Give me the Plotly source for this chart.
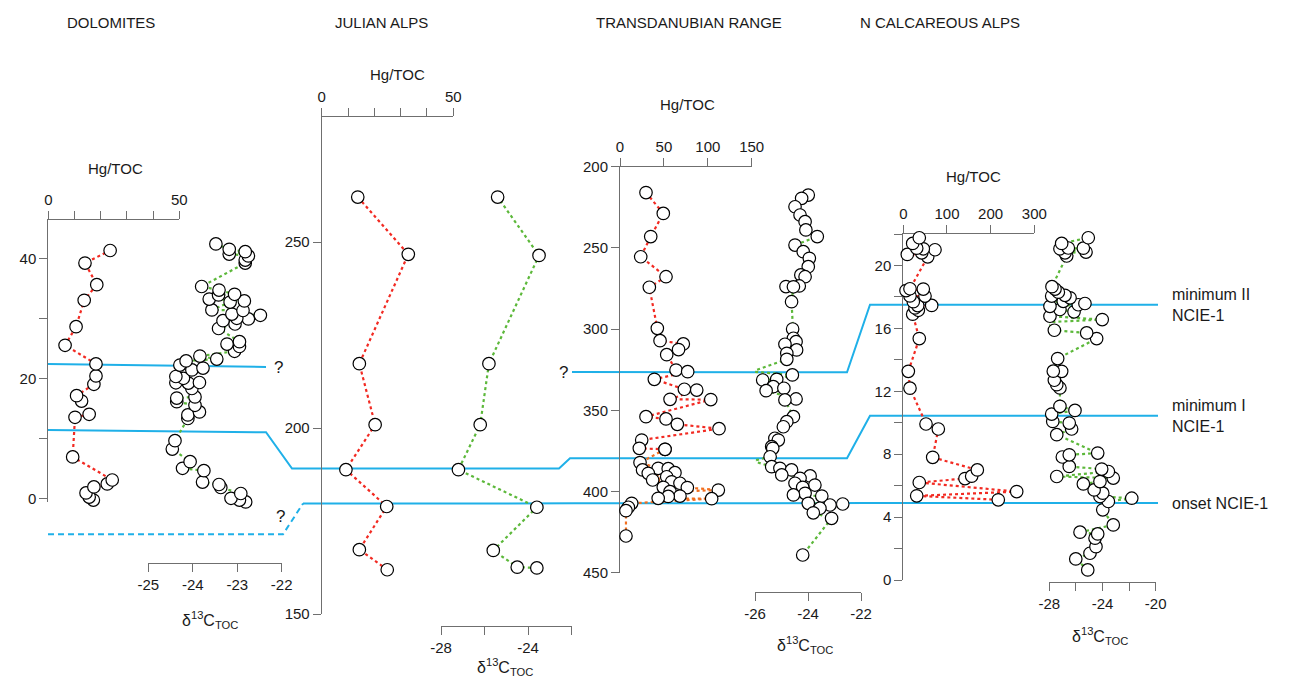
import plotly.graph_objects as go

# page body has an 8px margin: the figure is sized to fill the rest of the window
OFF = 8
W, H = 1291 - OFF, 687 - OFF
FONT = "Liberation Sans, Arial, sans-serif"

# ---------------- DATA ----------------
# Dolomites (depth m)
dol_hg_depth = [41.3, 39.2, 35.6, 33.0, 28.6, 25.5, 22.4, 20.4, 19.0, 17.1, 16.2, 14.0, 13.5, 6.9, 3.05, 2.4, 1.9, 0.9, 0.2, -0.3]
dol_hg = [23.6, 14.0, 18.5, 13.7, 10.6, 6.4, 18.2, 18.2, 17.4, 10.8, 12.7, 15.6, 10.2, 9.3, 24.4, 22.5, 17.4, 14.4, 15.6, 17.2]
dol_c_depth = [42.4, 41.5, 41.1, 40.7, 40.4, 39.7, 39.2, 35.3, 34.7, 34.0, 33.9, 33.2, 32.9, 32.7, 31.4, 31.3,
               30.7, 30.5, 30.0, 29.9, 29.6, 29.05, 28.3, 26.1, 25.7, 25.3, 24.5, 23.7, 23.2, 22.9, 22.2, 21.7,
               21.4, 20.3, 20.0, 19.3, 19.25, 19.2, 18.3, 16.9, 16.7, 16.1, 15.5, 14.4, 13.9, 13.3, 9.6, 8.2,
               6.1, 5.0, 4.6, 2.7, 2.3, 1.8, 0.8, 0.0, -0.3, -0.6]
dol_c = [-23.48, -23.18, -22.82, -23.18, -22.75, -22.82, -22.82, -23.8, -23.41, -23.06, -23.42, -23.63, -22.84, -23.16, -23.57, -22.87,
         -23.12, -22.48, -23.01, -22.75, -23.32, -23.05, -23.42, -22.95, -23.23, -22.95, -23.06, -23.84, -23.46, -24.15, -24.29, -23.77,
         -24.02, -24.38, -24.21, -23.85, -24.38, -24.1, -24.02, -23.95, -24.36, -24.36, -23.95, -23.85, -24.11, -24.11, -24.4, -24.46,
         -24.06, -24.23, -23.75, -23.78, -23.41, -23.37, -22.92, -23.14, -22.95, -22.81]

# Julian Alps (depth m)
jul_hg_depth = [262.1, 246.7, 217.3, 200.9, 188.8, 178.9, 167.3, 161.9]
jul_hg = [13.7, 32.9, 14.3, 20.3, 9.2, 24.7, 14.3, 24.9]
jul_c_depth = [262.1, 246.4, 217.3, 200.9, 188.8, 178.7, 167.1, 162.6, 162.4]
jul_c = [-25.4, -23.5, -25.8, -26.2, -27.2, -23.6, -25.6, -24.5, -23.6]

# Transdanubian Range (depth m)
tdr_hg_depth = [215.9, 228.7, 243.0, 255.4, 267.7, 274.2, 299.5, 307.1, 309.1, 312.6, 315.7, 325.2, 326.2, 330.9,
                337.0, 337.5, 343.2, 343.4, 353.9, 355.3, 358.6, 361.3, 368.3, 373.4, 374.0,
                382.2, 385.7, 385.9, 386.7, 388.4, 388.8, 390.9, 392.9, 394.0, 394.9, 397.4, 397.6, 399.1,
                400.1, 402.8, 403.0, 404.2, 404.4, 407.3, 409.7, 411.8, 427.4]
tdr_hg = [29.6, 49.3, 35.0, 23.6, 52.4, 33.4, 42.5, 45.6, 72.1, 66.7, 53.2, 63.8, 77.1, 39.1,
          73.3, 87.4, 57.0, 103.4, 29.6, 52.4, 65.3, 112.8, 24.7, 22.0, 51.3,
          22.8, 43.5, 54.9, 25.7, 62.6, 32.2, 53.2, 37.2, 58.8, 68.3, 49.3, 76.7, 112.0,
          57.0, 68.3, 54.9, 43.5, 104.4, 13.3, 9.5, 6.8, 6.8]
tdr_split_depth = 374.0   # red upper part / orange lower part
tdr_c_depth = [217.4, 219.4, 224.6, 229.7, 233.8, 238.9, 243.0, 248.2, 252.3, 256.4, 261.5, 266.6, 267.7, 273.4,
               273.8, 273.9, 283.1, 299.9, 305.6, 307.7, 309.3, 312.8, 314.9, 318.6, 326.2, 328.2, 330.9, 331.3,
               335.4, 336.4, 337.9, 343.0, 343.6, 353.9, 357.0, 360.1, 367.2, 368.3, 372.4, 373.4, 378.6, 381.2,
               384.7, 385.7, 386.7, 389.8, 390.4, 391.9, 394.9, 396.0, 397.4, 401.1, 402.1, 402.8, 407.3, 407.7,
               408.3, 410.3, 413.1, 416.5, 439.1]
tdr_c = [-23.99, -24.24, -24.49, -24.3, -24.11, -24.08, -23.65, -24.49, -24.18, -23.95, -23.99, -24.27, -24.11, -24.33,
         -24.83, -24.55, -24.62, -24.58, -24.55, -24.45, -24.87, -24.43, -24.8, -24.8, -26.12, -24.59, -25.18, -25.71,
         -25.31, -24.91, -25.58, -24.45, -24.87, -24.55, -24.8, -24.93, -25.25, -25.12, -25.37, -25.33, -25.43, -26.09,
         -25.37, -25.06, -24.62, -24.99, -23.92, -24.3, -24.49, -23.74, -24.2, -24.11, -24.55, -23.48, -23.99, -22.69,
         -23.17, -23.55, -23.8, -23.11, -24.2]

# Northern Calcareous Alps (depth m)
nca_hg_depth = [21.76, 21.4, 21.1, 21.06, 21.0, 20.8, 20.7, 20.55, 18.52, 18.5, 18.4, 18.06, 18.05, 17.7, 17.46,
                17.45, 17.3, 17.15, 16.9, 15.35, 13.27, 12.2, 9.92, 9.6, 7.8, 7.0, 6.6, 6.45, 6.2, 5.62, 5.35, 5.1]
nca_hg = [36.6, 21.5, 30.7, 45.8, 72.6, 42.1, 9.2, 55.9, 15.3, 45.8, 6.2, 15.3, 49.7, 22.9, 65.0,
          33.0, 26.8, 34.4, 21.5, 36.6, 11.5, 15.3, 52.0, 80.2, 67.3, 169.5, 156.6, 141.3, 36.6, 259.7, 30.7, 217.5]
nca_c_depth = [21.76, 21.4, 21.11, 21.1, 21.06, 20.85, 20.8, 20.6, 18.65, 18.6, 18.5, 18.3, 18.15, 18.1, 18.05,
               17.94, 17.72, 17.62, 17.58, 17.5, 17.4, 17.2, 17.05, 16.99, 16.77, 16.56, 16.39, 15.88, 15.71, 15.35,
               14.08, 13.28, 13.27, 12.7, 12.42, 12.21, 11.04, 10.78, 10.55, 10.08, 9.98, 9.6, 9.24, 8.07, 7.96,
               7.82, 7.22, 7.05, 6.9, 6.58, 6.48, 6.26, 6.11, 5.73, 5.52, 5.31, 5.2, 4.99, 4.46, 3.5, 3.04, 2.93,
               2.66, 2.12, 1.7, 1.34, 0.64]
nca_c = [-25.07, -27.07, -26.57, -25.44, -27.2, -25.24, -26.82, -26.69, -27.8, -28.2, -27.57, -27.32, -28.32, -26.82, -27.82,
         -26.44, -26.95, -28.45, -25.32, -25.82, -27.95, -27.2, -26.14, -28.08, -27.95, -24.02, -28.2, -27.62, -25.19, -24.44,
         -27.37, -27.7, -27.07, -27.62, -27.44, -27.2, -27.2, -26.07, -27.82, -27.74, -26.5, -26.32, -27.44, -24.36, -26.5,
         -27.02, -26.5, -24.06, -23.56, -27.44, -23.19, -24.19, -25.44, -24.63, -23.98, -24.19, -21.8, -23.56, -23.98, -23.19, -25.69, -24.36,
         -24.56, -24.49, -24.94, -26.01, -25.11]

# correlation levels in each section (depth units of that section)
onset_level = {"D": -6.0, "J": 179.7, "T": 407.3, "N": 4.89}
minI_level = {"D0": 11.4, "D1": 11.0, "J": 189.1, "T": 379.5, "N": 10.45}
minII_level = {"D0": 22.4, "D1": 21.9, "T0": 326.4, "T1": 326.6, "N": 17.5}

titles = ["DOLOMITES", "JULIAN ALPS", "TRANSDANUBIAN RANGE", "N CALCAREOUS ALPS"]

# ---------------- LAYOUT GEOMETRY (window pixels) ----------------
def X(px):
    return (px - OFF) / W

def Y(py):
    return 1 - (py - OFF) / H

panels = {
    "D": dict(ytop=220, ybot=502, yr=(-0.62, 46.38), ytv=[0, 20, 40], ymin=[10, 30],
              hx=(48.3, 179.3), hr=(0, 50), htv=[0, 50], hmin=[10, 20, 30, 40],
              cx=(148.3, 281.7), cr=(-25, -22), ctv=[-25, -24, -23, -22], cmin=[], cy=562.7),
    "J": dict(ytop=116.7, ybot=614, yr=(150, 283.7), ytv=[150, 200, 250], ymin=[],
              hx=(321.7, 453.3), hr=(0, 50), htv=[0, 50], hmin=[10, 20, 30, 40],
              cx=(441, 571.7), cr=(-28, -22), ctv=[-28, -24], cmin=[-26, -22], cy=626),
    "T": dict(ytop=166.8, ybot=572.7, yr=(450, 200), ytv=[200, 250, 300, 350, 400, 450], ymin=[],
              hx=(620, 751.7), hr=(0, 150), htv=[0, 50, 100, 150], hmin=[],
              cx=(755, 861), cr=(-26, -22), ctv=[-26, -24, -22], cmin=[], cy=591.7),
    "N": dict(ytop=234, ybot=580, yr=(0, 22), ytv=[0, 4, 8, 12, 16, 20], ymin=[2, 6, 10, 14, 18, 22],
              hx=(903.3, 1034.3), hr=(0, 300), htv=[0, 100, 200, 300], hmin=[],
              cx=(1049.3, 1155.7), cr=(-28, -20), ctv=[-28, -24, -20], cmin=[-26, -22], cy=581.7),
}
order = ["D", "J", "T", "N"]

def ypx(panel, v):
    p = panels[panel]
    r0, r1 = p["yr"]
    return p["ybot"] - (v - r0) / (r1 - r0) * (p["ybot"] - p["ytop"])

AXC = "#6f6f6f"
axis_common = dict(showline=True, linecolor=AXC, linewidth=1, ticks="outside", ticklen=8,
                   tickcolor=AXC, tickwidth=1, showgrid=False, zeroline=False, automargin=False,
                   layer="below traces", fixedrange=True, tickmode="array",
                   tickfont=dict(family=FONT, size=15, color="#1a1a1a"))

def minor(vals):
    return dict(tickmode="array", tickvals=vals, ticks="outside" if vals else "", ticklen=8,
                tickcolor=AXC, tickwidth=1, showgrid=False)

fig = go.Figure()
layout = dict(width=W, height=H, autosize=False, margin=dict(l=0, r=0, t=0, b=0, pad=0, autoexpand=False),
              paper_bgcolor="white", plot_bgcolor="rgba(0,0,0,0)", showlegend=False)

marker = dict(size=12.5, color="white", line=dict(color="black", width=1.2))
RED, GREEN, ORANGE, BLUE = "#f22a22", "#5cb83a", "#f26f1f", "#1fb0e8"

def add_series(depths, vals, xa, ya, color):
    pairs = sorted(zip(depths, vals), key=lambda t: t[0])
    fig.add_trace(go.Scatter(x=[p[1] for p in pairs], y=[p[0] for p in pairs], xaxis=xa, yaxis=ya,
                             mode="lines+markers", line=dict(color=color, width=2.2, dash="dot"),
                             marker=marker, cliponaxis=False, hoverinfo="skip"))

annotations = []
for i, key in enumerate(order):
    p = panels[key]
    yi, hxi, cxi = i + 1, 2 * i + 1, 2 * i + 2
    ysuf = "" if yi == 1 else str(yi)
    layout["yaxis" + ysuf] = dict(axis_common, domain=[Y(p["ybot"]), Y(p["ytop"])], range=list(p["yr"]),
                                  anchor="x" + ("" if hxi == 1 else str(hxi)), side="left",
                                  tickvals=p["ytv"], ticktext=[str(v) for v in p["ytv"]], minor=minor(p["ymin"]))
    layout["xaxis" + ("" if hxi == 1 else str(hxi))] = dict(axis_common, domain=[X(p["hx"][0]), X(p["hx"][1])],
                                                            range=list(p["hr"]), anchor="y" + ysuf, side="top",
                                                            tickvals=p["htv"], ticktext=[str(v) for v in p["htv"]],
                                                            minor=minor(p["hmin"]))
    layout["xaxis" + str(cxi)] = dict(axis_common, domain=[X(p["cx"][0]), X(p["cx"][1])], range=list(p["cr"]),
                                      anchor="free", position=Y(p["cy"]), side="bottom",
                                      tickvals=p["ctv"], ticktext=[str(v) for v in p["ctv"]], minor=minor(p["cmin"]))

# traces
add_series(dol_hg_depth, dol_hg, "x", "y", RED)
add_series(dol_c_depth, dol_c, "x2", "y", GREEN)
add_series(jul_hg_depth, jul_hg, "x3", "y2", RED)
add_series(jul_c_depth, jul_c, "x4", "y2", GREEN)
up = [(d, v) for d, v in zip(tdr_hg_depth, tdr_hg) if d <= tdr_split_depth]
lo = [(d, v) for d, v in zip(tdr_hg_depth, tdr_hg) if d >= tdr_split_depth]
add_series([d for d, v in lo], [v for d, v in lo], "x5", "y3", ORANGE)
add_series([d for d, v in up], [v for d, v in up], "x5", "y3", RED)
add_series(tdr_c_depth, tdr_c, "x6", "y3", GREEN)
add_series(nca_hg_depth, nca_hg, "x7", "y4", RED)
add_series(nca_c_depth, nca_c, "x8", "y4", GREEN)

# correlation lines
def path(points):
    s = ""
    for j, (xp, pan, lev) in enumerate(points):
        s += ("M" if j == 0 else "L") + f"{X(xp):.5f},{Y(ypx(pan, lev)):.5f}"
    return s

shapes = []
def add_path(points, dash="solid"):
    shapes.append(dict(type="path", xref="paper", yref="paper", path=path(points), layer="below",
                       line=dict(color=BLUE, width=2, dash=dash)))

add_path([(48, "D", onset_level["D"]), (283, "D", onset_level["D"]), (303, "J", onset_level["J"])], dash="6px,4px")
add_path([(303, "J", onset_level["J"]), (575, "T", onset_level["T"]), (870, "N", onset_level["N"]),
          (1158, "N", onset_level["N"])])
add_path([(48, "D", minI_level["D0"]), (266, "D", minI_level["D1"]), (292, "J", minI_level["J"]),
          (559, "J", minI_level["J"]), (570, "T", minI_level["T"]), (847, "T", minI_level["T"]),
          (870, "N", minI_level["N"]), (1158, "N", minI_level["N"])])
add_path([(48, "D", minII_level["D0"]), (266, "D", minII_level["D1"])])
add_path([(572, "T", minII_level["T0"]), (847, "T", minII_level["T1"]), (870, "N", minII_level["N"]),
          (1158, "N", minII_level["N"])])

def txt(x, y, text, size=15, xanchor="center", yanchor="middle", xref="paper", yref="paper"):
    annotations.append(dict(x=x, y=y, xref=xref, yref=yref, text=text, showarrow=False, xanchor=xanchor,
                            yanchor=yanchor, font=dict(family=FONT, size=size, color="#1a1a1a"), align="left"))

# section titles
for t, cx in zip(titles, [111, 381, 689, 940]):
    txt(X(cx), Y(22), t, size=15)
# Hg/TOC labels
for cx, cy in [(115.5, 168.3), (397, 75), (687.5, 105), (973, 176.7)]:
    txt(X(cx), Y(cy), "Hg/TOC", size=15)
# delta labels
for cx, cy in [(210, 620), (505, 667), (805, 645), (1100, 636)]:
    txt(X(cx), Y(cy), "δ<sup>13</sup>C<sub>TOC</sub>", size=16)
# question marks
for cx, cy in [(278, 367), (280, 516), (563, 372)]:
    txt(X(cx), Y(cy), "?", size=17)
# event labels
txt(X(1170), minII_level["N"], "minimum II<br>NCIE-1", size=16, xanchor="left", yref="y4")
txt(X(1170), minI_level["N"], "minimum I<br>NCIE-1", size=16, xanchor="left", yref="y4")
txt(X(1170), onset_level["N"], "onset NCIE-1", size=16, xanchor="left", yref="y4")

layout["shapes"] = shapes
layout["annotations"] = annotations
fig.update_layout(**layout)
fig.write_html("out.html")
